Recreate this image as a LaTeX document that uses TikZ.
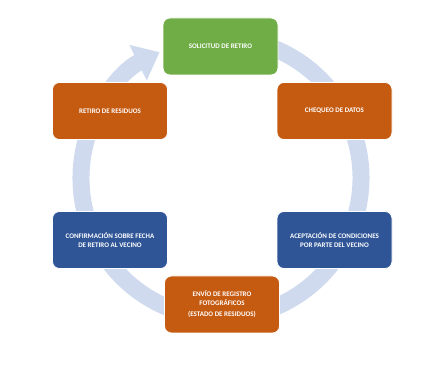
\documentclass[tikz,border=0pt]{standalone}
\usepackage{fontspec}
\setmainfont{Carlito}
\usetikzlibrary{positioning,arrows.meta,calc}
\definecolor{stepgreen}{HTML}{70AD47}
\definecolor{steporange}{HTML}{C55A11}
\definecolor{stepblue}{HTML}{2F5597}
\definecolor{ringblue}{HTML}{D0DAEE}

\begin{document}
\begin{tikzpicture}[x=1pt,y=1pt,
  stage/.style={rounded corners=7pt, draw=white, line width=0.8pt,
    minimum width=115pt, minimum height=57pt, inner sep=2pt,
    align=center, text=white, font=\fontsize{7}{8.5}\selectfont\bfseries}]
\useasboundingbox (0,0) rectangle (445,367);
\coordinate (mid) at (221,189);
% ring with arrow head
\draw[ringblue, line width=17pt, -{Triangle[width=38pt,length=24pt]}]
  ($(mid)+(80:140)$) arc[start angle=80, end angle=-244, radius=140];
% stages
\node[stage, fill=stepgreen] (solicitud) at (220.5,320.5) {SOLICITUD DE RETIRO};
\node[stage, fill=steporange] (chequeo) at (334.5,256) {CHEQUEO DE DATOS};
\node[stage, fill=stepblue] (aceptacion) at (334.5,127) {ACEPTACIÓN DE CONDICIONES\\POR PARTE DEL VECINO};
\node[stage, fill=steporange] (envio) at (222,62.5) {ENVÍO DE REGISTRO\\FOTOGRÁFICOS\\[3pt](ESTADO DE RESIDUOS)};
\node[stage, fill=stepblue] (confirmacion) at (110,127) {CONFIRMACIÓN SOBRE FECHA\\DE RETIRO AL VECINO};
\node[stage, fill=steporange] (retiro) at (110,256) {RETIRO DE RESIDUOS};
\end{tikzpicture}
\end{document}
